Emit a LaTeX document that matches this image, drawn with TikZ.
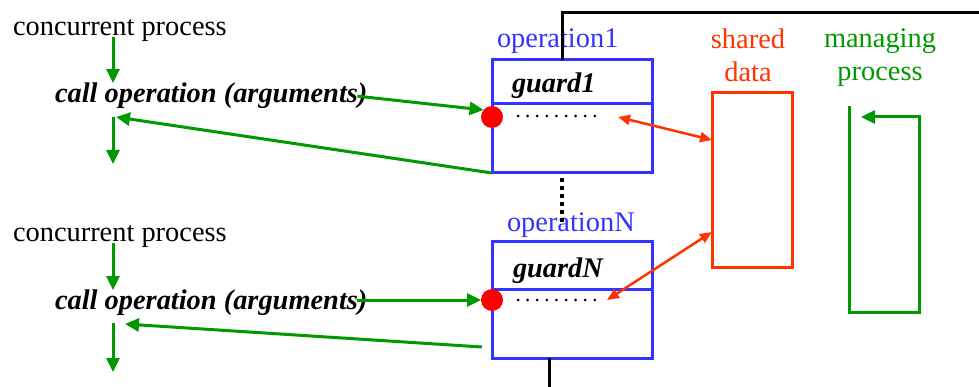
\documentclass[tikz,border=0pt]{standalone}
\usepackage{fontspec}
\setmainfont{Liberation Serif}
\usetikzlibrary{arrows.meta}

\definecolor{OpBlue}{RGB}{51,51,255}
\definecolor{DataRed}{RGB}{255,51,0}
\definecolor{ProcGreen}{RGB}{0,153,0}

\begin{document}
\begin{tikzpicture}[x=1pt,y=-1pt]
  \tikzset{TextStyle/.style = {
    inner sep     = 0pt,
    outer sep     = 0pt,
    font          = \fontsize{28.4}{33}\selectfont
    }
  }
  \tikzset{CallStyle/.style = {
    TextStyle,
    font          = \fontsize{28.4}{33}\selectfont\bfseries\itshape
    }
  }
  \tikzset{BoxStyle/.style = {
    shape         = rectangle,
    draw          = OpBlue,
    line width    = 3pt,
    inner sep     = 0pt,
    outer sep     = 0pt,
    minimum width = 160pt
    }
  }
  \tikzset{GateStyle/.style = {
    shape         = circle,
    fill          = red,
    inner sep     = 0pt,
    outer sep     = 0pt,
    minimum size  = 22pt
    }
  }
  \tikzset{FlowStyle/.style = {
    draw          = ProcGreen,
    line width    = 3pt,
    -{Triangle[length=14pt,width=13pt]}
    }
  }
  \tikzset{AccessStyle/.style = {
    draw          = DataRed,
    line width    = 2.5pt,
    {Triangle[length=12pt,width=10pt]}-{Triangle[length=12pt,width=10pt]}
    }
  }
  \tikzset{WireStyle/.style = {
    draw          = black,
    line width    = 3pt
    }
  }

  \useasboundingbox (0,0) rectangle (979,387);

  % first concurrent process
  \node[TextStyle, anchor=base west](P1) at (13,36) {concurrent process};
  \node[CallStyle, anchor=base west](C1) at (55,103) {call operation (arguments)};
  % second concurrent process
  \node[TextStyle, anchor=base west](P2) at (13,242) {concurrent process};
  \node[CallStyle, anchor=base west](C2) at (55,309) {call operation (arguments)};

  % operations
  \node[TextStyle, anchor=base west, text=OpBlue](L1) at (497,48) {operation1};
  \node[BoxStyle, minimum height=44pt](G1) at (572,82) {};
  \node[BoxStyle, minimum height=69pt](B1) at (572,138.5) {};
  \node[CallStyle, anchor=base west](T1) at (512,93) {guard1};
  \node[GateStyle](D1) at (492,117) {};

  \node[TextStyle, anchor=base west, text=OpBlue](LN) at (507,232) {operationN};
  \node[BoxStyle, minimum height=47pt](GN) at (572,265.5) {};
  \node[BoxStyle, minimum height=69pt](BN) at (572,323.5) {};
  \node[CallStyle, anchor=base west](TN) at (513,277) {guardN};
  \node[GateStyle](DN) at (492,300) {};

  \foreach \k in {0,...,8} {
    \fill (518+\k*9.6,116) circle (1.5);
    \fill (518+\k*9.6,300) circle (1.5);
  }

  % shared data
  \node[TextStyle, anchor=north, align=center, text=DataRed](SL) at (748,29) {shared\\data};
  \node[shape=rectangle, draw=DataRed, line width=3pt, inner sep=0pt,
        minimum width=80pt, minimum height=174pt](SD) at (752,180) {};

  % managing process
  \node[TextStyle, anchor=north, align=center, text=ProcGreen](ML) at (880,29) {managing\\process};
  \coordinate (M1) at (849,106);
  \coordinate (M2) at (849,312);
  \coordinate (M3) at (919,312);
  \coordinate (M4) at (919,117);
  \coordinate (M5) at (861,117);
  \draw[FlowStyle, line join=miter](M1) -- (M2) -- (M3) -- (M4) -- (M5);

  % control flow of the callers
  \coordinate (A1) at (113,37);
  \coordinate (A2) at (113,83);
  \coordinate (A3) at (113,117);
  \coordinate (A4) at (113,164);
  \coordinate (R1) at (116,117);
  \draw[FlowStyle](A1) to (A2);
  \draw[FlowStyle](A3) to (A4);
  \draw[FlowStyle]([xshift=-10pt]C1.east) to (D1.140);
  \draw[FlowStyle](B1.south west) to (R1);

  \coordinate (A5) at (113,243);
  \coordinate (A6) at (113,290);
  \coordinate (A7) at (113,323);
  \coordinate (A8) at (113,372);
  \coordinate (R2) at (125,324);
  \coordinate (R3) at (482,347);
  \draw[FlowStyle](A5) to (A6);
  \draw[FlowStyle](A7) to (A8);
  \draw[FlowStyle]([xshift=-10pt]C2.east |- DN) to (DN.west);
  \draw[FlowStyle](R3) to (R2);

  % access to the shared data
  \coordinate (E1) at (618,117);
  \coordinate (S1) at (712,140);
  \coordinate (EN) at (607,300);
  \coordinate (SN) at (712,232);
  \draw[AccessStyle](E1) to (S1);
  \draw[AccessStyle](EN) to (SN);

  % monitor wiring
  \coordinate (W1) at (562,13);
  \coordinate (W2) at (979,13);
  \coordinate (W3) at (549,387);
  \draw[WireStyle](G1.north -| W1) -- (W1) -- (W2);
  \draw[WireStyle](BN.south -| W3) -- (W3);
  \draw[black, line width=4pt, dash pattern=on 4pt off 4pt](562,178) -- (562,226);

\end{tikzpicture}
\end{document}
